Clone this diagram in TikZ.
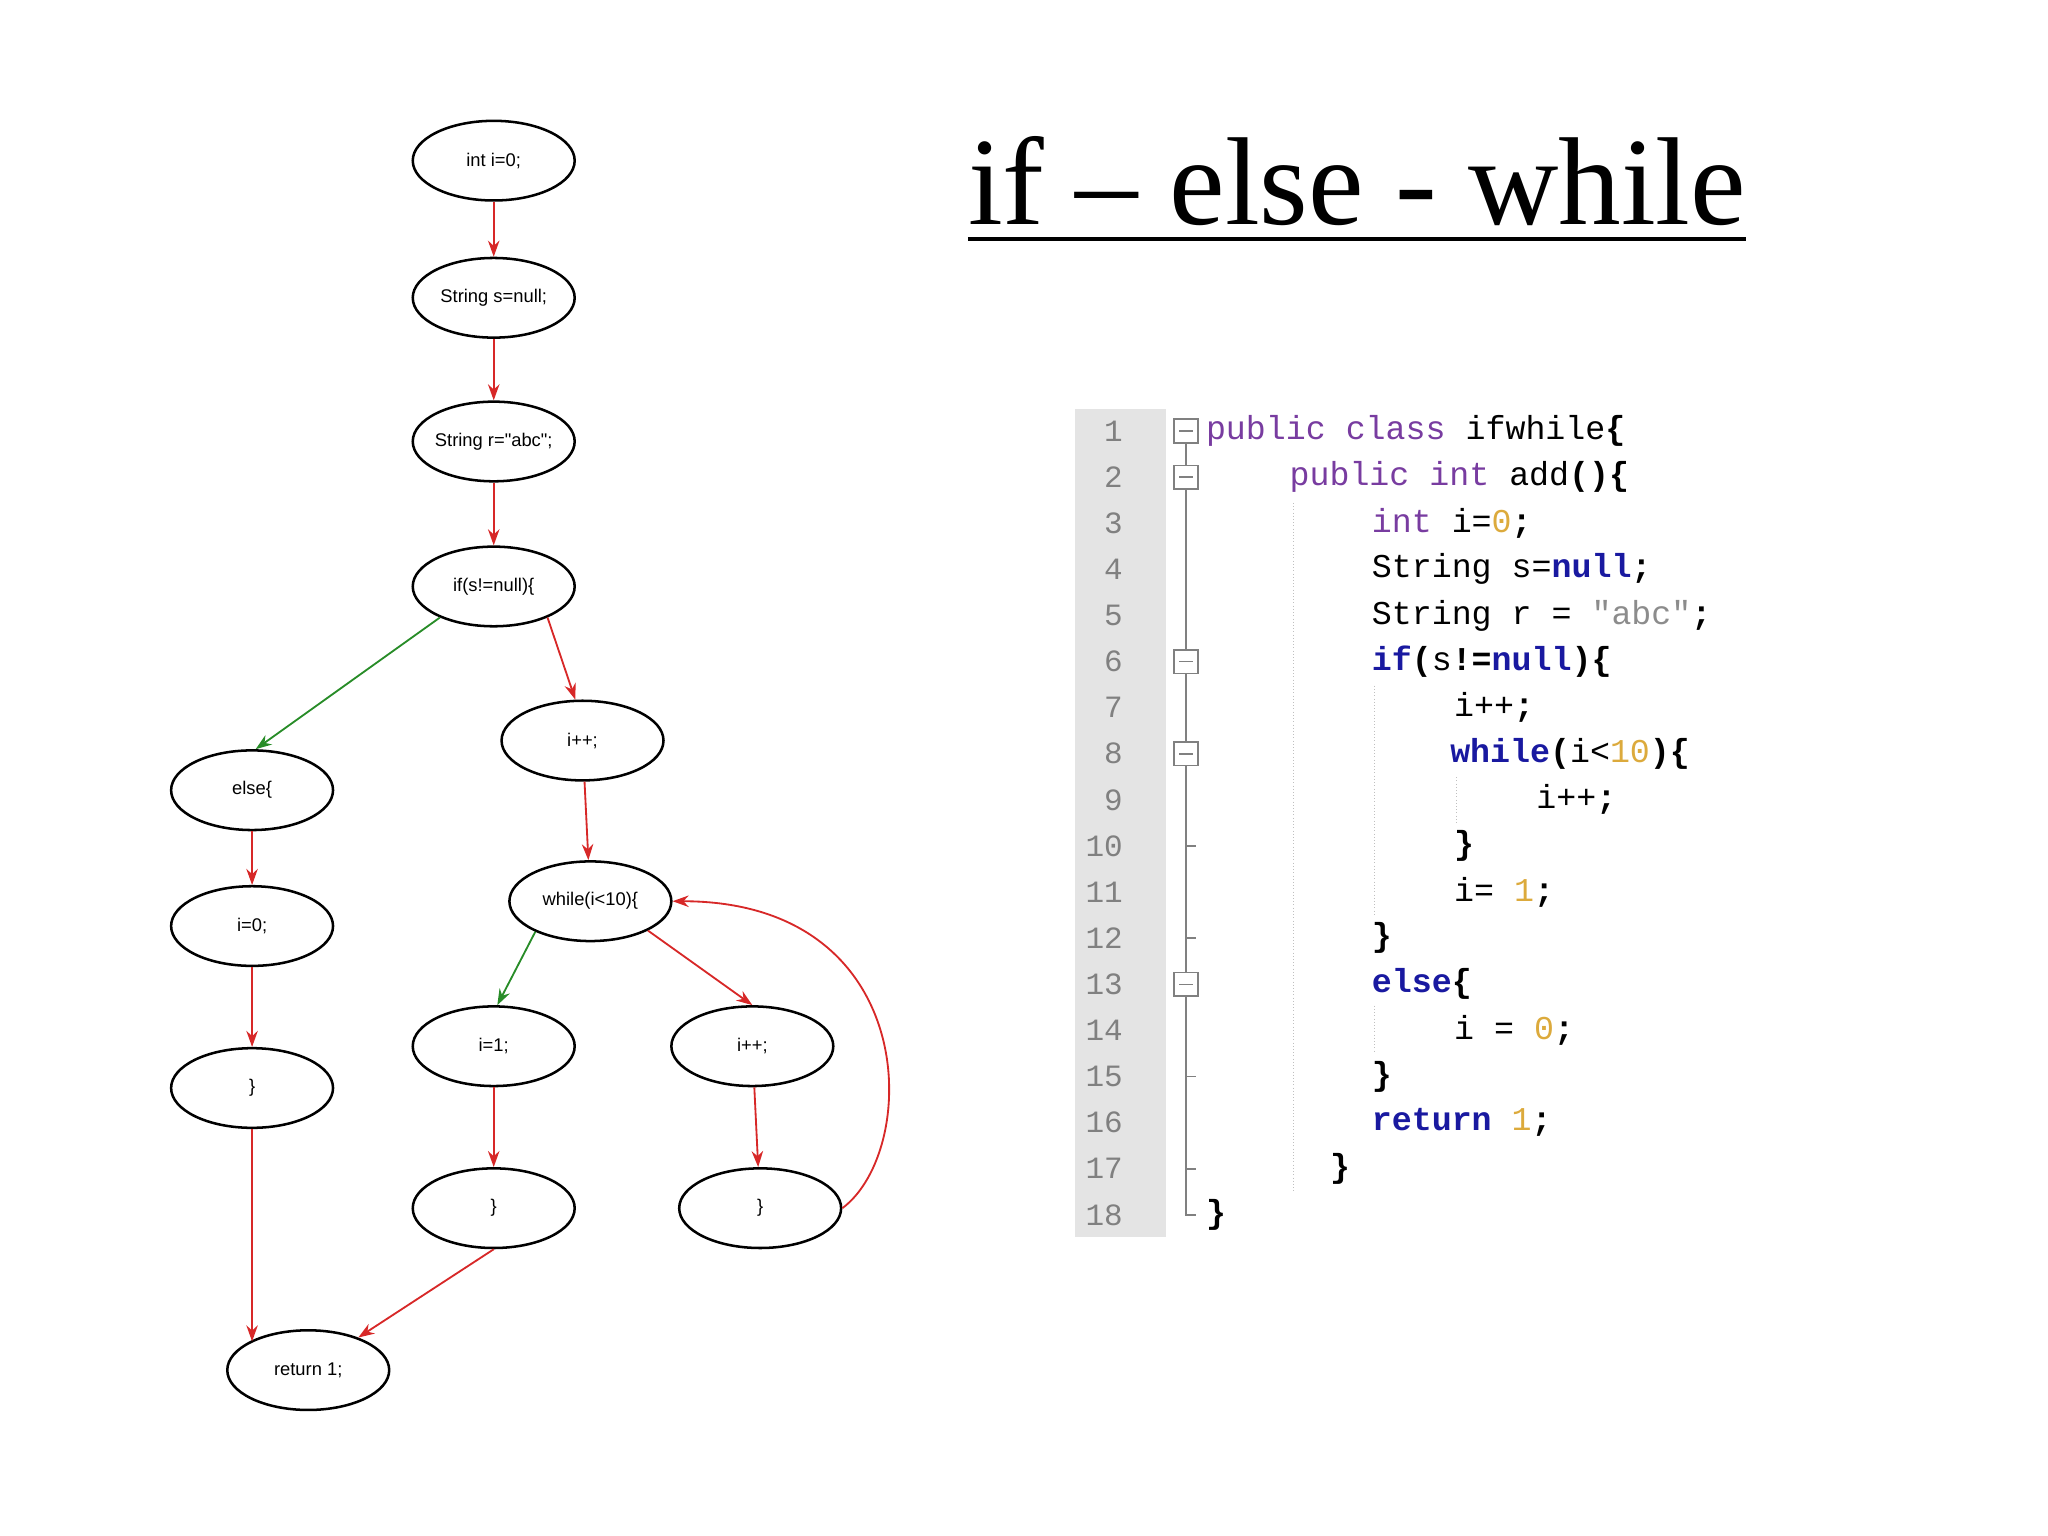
\documentclass[tikz,border=0pt]{standalone}
\usepackage{fontspec}
\setmainfont{Liberation Serif}
\newfontfamily\lsans{Liberation Sans}
\newfontfamily\cmono{Liberation Mono}
\usetikzlibrary{shapes.geometric,arrows.meta}
\definecolor{kwp}{RGB}{120,60,160}
\definecolor{kwb}{RGB}{25,25,160}
\definecolor{numc}{RGB}{220,170,60}
\definecolor{strc}{RGB}{140,140,140}
\definecolor{gut}{RGB}{228,228,228}
\definecolor{edgered}{RGB}{215,40,40}
\definecolor{edgegreen}{RGB}{40,140,40}
\tikzset{
  ell/.style={ellipse,draw,line width=1.1pt,minimum width=2.48cm,minimum height=1.22cm,inner sep=0pt,font=\lsans\fontsize{8}{9}\selectfont},
  re/.style={draw=edgered,line width=0.8pt,-{Stealth[length=7pt,width=5pt]}},
  ge/.style={draw=edgegreen,line width=0.8pt,-{Stealth[length=7pt,width=5pt]}},
  cl/.style={anchor=west,inner sep=0pt,font=\cmono\fontsize{14.5}{15}\selectfont},
  ln/.style={anchor=east,inner sep=0pt,text=gray,font=\cmono\fontsize{13.5}{14}\selectfont},
  fbox/.style={draw=gray,line width=0.7pt,fill=white,minimum size=0.36cm,inner sep=0pt}
}
\newcommand{\kp}[1]{\textcolor{kwp}{#1}}
\newcommand{\kb}[1]{\textcolor{kwb}{\bfseries #1}}
\newcommand{\nm}[1]{\textcolor{numc}{#1}}
\begin{document}
\begin{tikzpicture}[x=0.02cm,y=-0.02cm]
\useasboundingbox (0,0) rectangle (1568,1176);
% title
\node[anchor=base,inner sep=0pt,font=\fontsize{54.5}{60}\selectfont] (title) at (1039,172) {if -- else - while};
\draw[line width=1.7pt] (741,183) -- (1337,183);
% graph
\node[ell] (a) at (378,123) {int i=0;};
\node[ell] (b) at (378,228) {String s=null;};
\node[ell,inner xsep=-6pt] (c) at (378,338) {String r="abc";};
\node[ell] (d) at (378,449) {if(s!=null)\{};
\node[ell] (e) at (446,567) {i++;};
\node[ell] (f) at (193,605) {else\{};
\node[ell] (g) at (452,690) {while(i<10)\{};
\node[ell] (h) at (193,709) {i=0;};
\node[ell] (i1) at (378,801) {i=1;};
\node[ell] (j) at (576,801) {i++;};
\node[ell] (k) at (193,833) {\}};
\node[ell] (l) at (378,925) {\}};
\node[ell] (m) at (582,925) {\}};
\node[ell] (n) at (236,1049) {return 1;};
\coordinate (nin) at (193,1027);
\draw[re] (a) -- (b);
\draw[re] (b) -- (c);
\draw[re] (c) -- (d);
\draw[ge] (d.210) -- (f.85);
\draw[re] (d.330) -- (e.100);
\draw[re] (e) -- (g);
\draw[re] (f) -- (h);
\draw[re] (h) -- (k);
\draw[ge] (g.209) -- (i1.85);
\draw[re] (g.333) -- (j.90);
\draw[re] (i1) -- (l);
\draw[re] (j) -- (m);
\draw[re] (k.south) -- (nin);
\draw[re] (l.south) -- (n);
\draw[re] (m.east) .. controls (705,880) and (705,690) .. (g.east);
% code panel
\fill[gut] (823,313) rectangle (893,947);
\foreach \k in {1,...,18}{
  \node[ln] (n\k) at (860,{330+35.3*(\k-1)}) {\k};
}
\draw[gray,line width=0.7pt] (908,330) -- (908,930) -- (916,930);
\foreach \k in {10,12,15,17}{ \draw[gray,line width=0.7pt] (908,{330+35.3*(\k-1)}) -- (916,{330+35.3*(\k-1)}); }
\foreach \k in {1,2,6,8,13}{
  \node[fbox] (fb\k) at (908,{330+35.3*(\k-1)}) {};
  \draw[gray,line width=0.7pt] (903,{330+35.3*(\k-1)}) -- (913,{330+35.3*(\k-1)});
}
\draw[gray!50,densely dotted] (990,385) -- (990,912);
\draw[gray!50,densely dotted] (1052,525) -- (1052,700);
\draw[gray!50,densely dotted] (1052,770) -- (1052,805);
\draw[gray!50,densely dotted] (1115,595) -- (1115,630);
\node[cl] (c1) at (923,330) {\kp{public class} ifwhile\textbf{\{}};
\node[cl] (c2) at (987,365.3) {\kp{public int} add\textbf{()\{}};
\node[cl] (c3) at (1050,400.6) {\kp{int} i=\nm{0}\textbf{;}};
\node[cl] (c4) at (1050,435.9) {String s=\kb{null}\textbf{;}};
\node[cl] (c5) at (1050,471.2) {String r = \textcolor{strc}{"abc"}\textbf{;}};
\node[cl] (c6) at (1050,506.5) {\kb{if}\textbf{(}s\textbf{!=}\kb{null}\textbf{)\{}};
\node[cl] (c7) at (1113,541.8) {i++\textbf{;}};
\node[cl] (c8) at (1110,577.1) {\kb{while}\textbf{(}i<\nm{10}\textbf{)\{}};
\node[cl] (c9) at (1176,612.4) {i++\textbf{;}};
\node[cl] (c10) at (1113,647.7) {\textbf{\}}};
\node[cl] (c11) at (1113,683) {i= \nm{1}\textbf{;}};
\node[cl] (c12) at (1050,718.3) {\textbf{\}}};
\node[cl] (c13) at (1050,753.6) {\kb{else}\textbf{\{}};
\node[cl] (c14) at (1113,788.9) {i = \nm{0}\textbf{;}};
\node[cl] (c15) at (1050,824.2) {\textbf{\}}};
\node[cl] (c16) at (1050,859.5) {\kb{return} \nm{1}\textbf{;}};
\node[cl] (c17) at (1018,894.8) {\textbf{\}}};
\node[cl] (c18) at (923,930.1) {\textbf{\}}};
\end{tikzpicture}
\end{document}
